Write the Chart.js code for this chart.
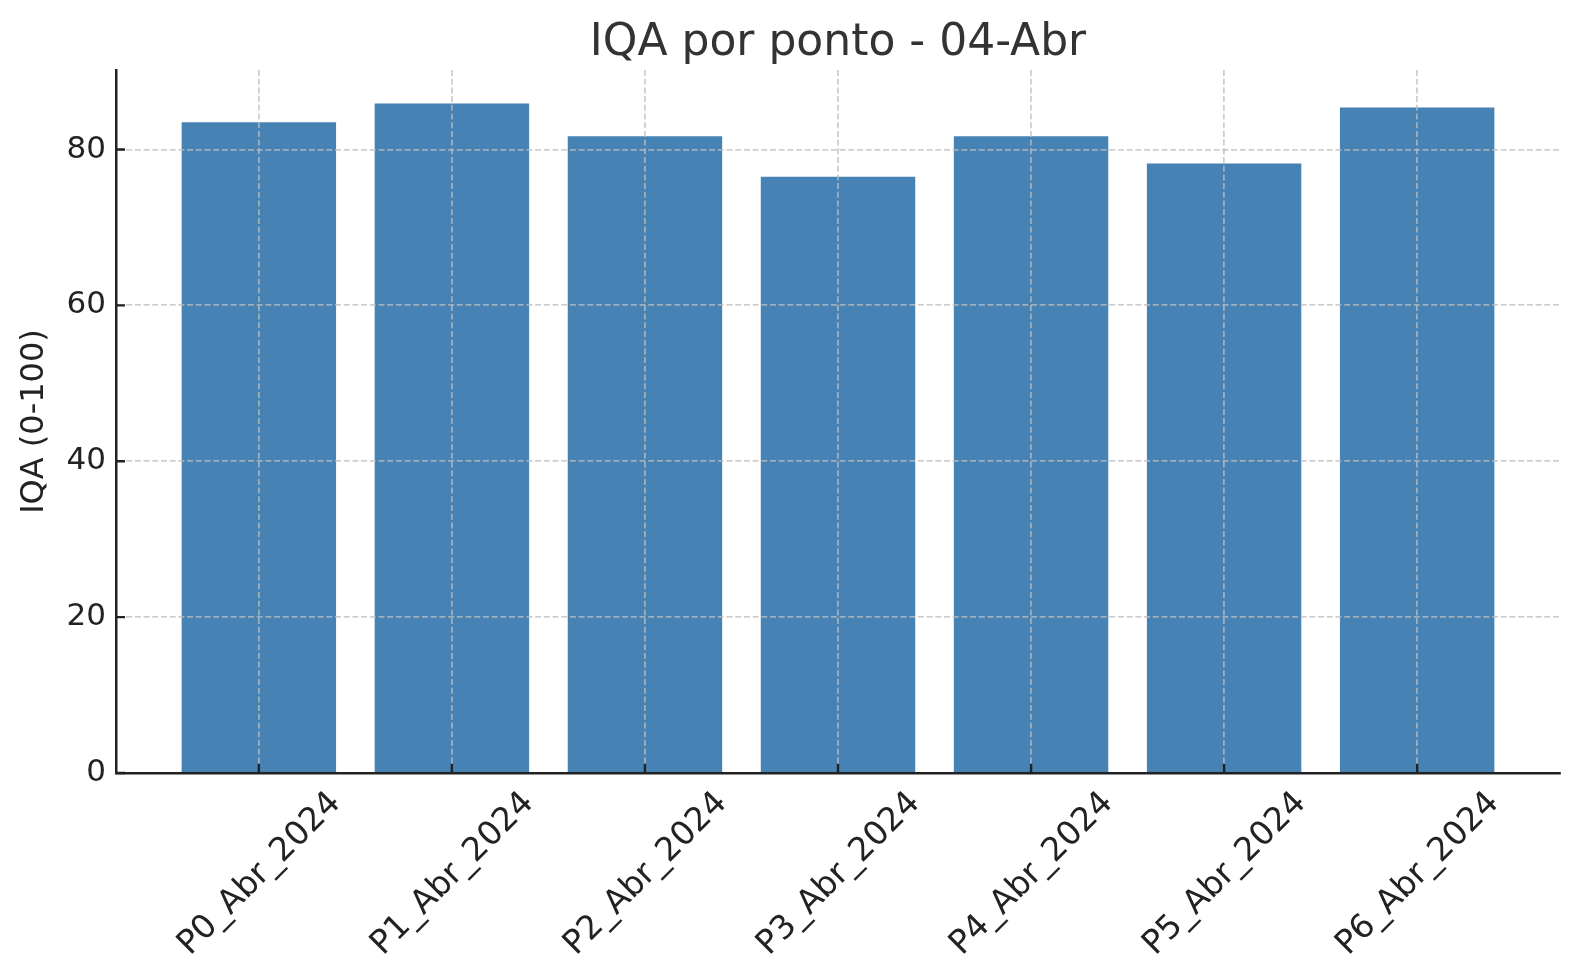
<!DOCTYPE html>
<html>
<head>
<meta charset="utf-8">
<title>IQA por ponto - 04-Abr</title>
<script src="https://cdn.jsdelivr.net/npm/chart.js@4.4.1/dist/chart.umd.min.js"></script>
<style>
    html, body { margin: 0; padding: 0; background: #ffffff; }
    #wrap { width: 1580px; height: 980px; position: relative; }
</style>
</head>
<body>
<div id="wrap"><canvas id="iqaChart"></canvas></div>
<script>
// Data
const pontos = ['P0_Abr_2024', 'P1_Abr_2024', 'P2_Abr_2024', 'P3_Abr_2024', 'P4_Abr_2024', 'P5_Abr_2024', 'P6_Abr_2024'];
const iqaValues = [83.5, 85.9, 81.7, 76.5, 81.7, 78.2, 85.4];
const yTicks = [0, 20, 40, 60, 80];

const FONT = "'DejaVu Sans', 'Liberation Sans', sans-serif";
const AXIS_COLOR = '#222222';
const GRID_COLOR = 'rgba(190, 190, 190, 0.75)';

// matplotlib style ticks pointing into the plot
const innerTicks = {
    id: 'innerTicks',
    afterDraw(chart) {
        const ctx = chart.ctx;
        const x = chart.scales.x;
        const y = chart.scales.y;
        const len = 9;
        ctx.save();
        ctx.strokeStyle = AXIS_COLOR;
        ctx.lineWidth = 2.4;
        ctx.beginPath();
        pontos.forEach(function (p, i) {
            const px = x.getPixelForValue(i);
            ctx.moveTo(px, y.bottom);
            ctx.lineTo(px, y.bottom - len);
        });
        yTicks.forEach(function (v) {
            const py = y.getPixelForValue(v);
            ctx.moveTo(x.left, py);
            ctx.lineTo(x.left + len, py);
        });
        ctx.stroke();
        ctx.restore();
    }
};

const ctx = document.getElementById('iqaChart').getContext('2d');

const iqaChart = new Chart(ctx, {
    type: 'bar',
    data: {
        datasets: [{
            label: 'IQA',
            data: iqaValues.map(function (v, i) { return { x: i, y: v }; }),
            backgroundColor: '#4682B4',
            borderWidth: 0,
            barPercentage: 0.8,
            categoryPercentage: 1.0
        }]
    },
    options: {
        responsive: true,
        maintainAspectRatio: false,
        devicePixelRatio: 1,
        animation: false,
        layout: {
            padding: { left: 0, right: 20, top: 0, bottom: 0 }
        },
        plugins: {
            legend: { display: false },
            tooltip: { enabled: false },
            title: {
                display: true,
                text: 'IQA por ponto - 04-Abr',
                fullSize: false,
                color: '#333333',
                font: { family: FONT, size: 44, weight: 'normal' },
                padding: { top: 17, bottom: 0.2 }
            }
        },
        scales: {
            x: {
                type: 'linear',
                min: -0.74,
                max: 6.74,
                offset: false,
                afterBuildTicks: function (scale) {
                    scale.ticks = pontos.map(function (p, i) { return { value: i }; });
                },
                afterFit: function (scale) {
                    scale.height = 207;
                },
                ticks: {
                    autoSkip: false,
                    maxRotation: 45,
                    minRotation: 45,
                    padding: 11,
                    labelOffset: 77,
                    color: AXIS_COLOR,
                    font: { family: FONT, size: 33 },
                    callback: function (value) {
                        return pontos[value];
                    }
                },
                grid: {
                    offset: false,
                    color: GRID_COLOR,
                    lineWidth: 1.8,
                    drawTicks: false,
                    z: 1
                },
                border: {
                    display: true,
                    color: AXIS_COLOR,
                    width: 2.5,
                    dash: [6, 2.7],
                    z: 2
                }
            },
            y: {
                min: 0,
                max: 90.2,
                afterBuildTicks: function (scale) {
                    scale.ticks = yTicks.map(function (v) { return { value: v }; });
                },
                afterFit: function (scale) {
                    scale.width = 116;
                },
                ticks: {
                    padding: 10,
                    color: AXIS_COLOR,
                    font: { family: FONT, size: 31 }
                },
                title: {
                    display: true,
                    text: 'IQA (0-100)',
                    color: AXIS_COLOR,
                    font: { family: FONT, size: 32 },
                    padding: { top: 15, bottom: 0 }
                },
                grid: {
                    color: GRID_COLOR,
                    lineWidth: 1.8,
                    drawTicks: false,
                    z: 1
                },
                border: {
                    display: true,
                    color: AXIS_COLOR,
                    width: 2.5,
                    dash: [6, 2.7],
                    z: 2
                }
            }
        }
    },
    plugins: [innerTicks]
});
</script>
</body>
</html>
